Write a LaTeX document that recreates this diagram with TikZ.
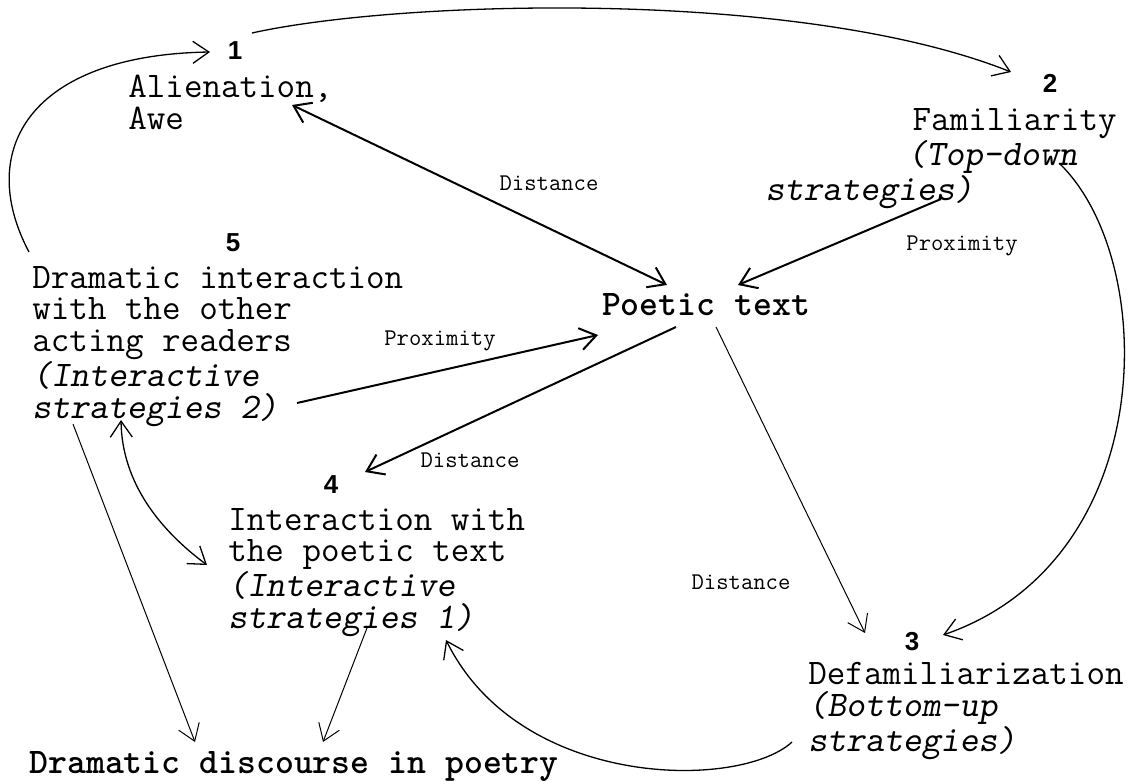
\documentclass[tikz,border=0pt]{standalone}
\usepackage{fontspec}
\newfontfamily\numfont{Liberation Sans}
\usetikzlibrary{arrows.meta,calc}

\begin{document}
\begin{tikzpicture}[x=0.5pt, y=-0.5pt, >={Straight Barb[length=8pt,width=11pt]}]
    \tikzstyle{txt}=[inner sep=0pt, align=left, font=\ttfamily\fontsize{18}{15.75}\selectfont]
    \tikzstyle{head}=[inner sep=0pt, font=\ttfamily\bfseries\fontsize{18}{15.75}\selectfont]
    \tikzstyle{num}=[inner sep=0pt, font=\numfont\bfseries\fontsize{13}{13}\selectfont]
    \tikzstyle{lab}=[inner sep=0pt, font=\ttfamily\fontsize{12}{12}\selectfont]
    \tikzstyle{link}=[->, line width=1pt]
    \tikzstyle{arc}=[->, line width=0.65pt]
    \tikzstyle{slim}=[->, line width=0.5pt]
    \useasboundingbox (0,0) rectangle (1140,781);

    \node (num1) [num] at (235,51) {1};
    \node (alien) [txt, anchor=north west] at (128,75) {Alienation,\\Awe};
    \node (num2) [num] at (1050,83) {2};
    \node (fam) [txt, align=right, anchor=north east] at (1117,108) {Familiarity\\\textsl{(Top-down}\hspace*{19.5pt}\mbox{}\\\textsl{strategies)}\hspace*{71.5pt}};
    \node (num5) [num] at (233,243) {5};
    \node (box5) [txt, anchor=north west] at (32,266) {Dramatic interaction\\with the other\\acting readers\\\textsl{(Interactive}\\\textsl{strategies 2)}};
    \node (poetic) [head, anchor=base] at (706,315) {Poetic text};
    \node (num4) [num] at (331,485) {4};
    \node (box4) [txt, anchor=north west] at (228,508) {Interaction with\\the poetic text\\\textsl{(Interactive}\\\textsl{strategies 1)}};
    \node (num3) [num] at (912,642) {3};
    \node (box3) [txt, anchor=north west] at (808,662) {Defamiliarization\\\textsl{(Bottom-up}\\\textsl{strategies)}};
    \node (drama) [head, anchor=base west] at (29,773) {Dramatic discourse in poetry};

    \node (dist1) [lab] at (549,183) {Distance};
    \node (prox1) [lab] at (962,246) {Proximity};
    \node (prox2) [lab] at (440,341) {Proximity};
    \node (dist2) [lab] at (470,460) {Distance};
    \node (dist3) [lab] at (741,582) {Distance};

    \draw [link, <->] ($(alien.north west)+(164,30)$) -- ($(poetic.base)+(-39,-30)$);
    \draw [link] ($(fam.north east)+(-176,91)$) -- ($(poetic.base)+(32,-30)$);
    \draw [link] ($(box5.north west)+(265,137)$) -- ($(poetic.base)+(-108,20)$);
    \draw [link] ($(poetic.base)+(-30,12)$) -- ($(num4)+(34,-13)$);
    \draw [slim] ($(poetic.base)+(10,12)$) -- ($(num3)+(-47,-9)$);

    \draw [arc] ($(num1)+(17,-18)$) .. controls +(148,-33) and +(-211,-84) .. ($(num2)+(-39,-11)$);
    \draw [arc] ($(box5.north west)+(-3,-14)$) .. controls +(-54,-102) and +(-180,3) .. ($(num1)+(-25,1)$);
    \draw [arc] ($(fam.north east)+(-58,55)$) .. controls +(101,97) and +(217,-75) .. ($(num3)+(31,-7)$);
    \draw [arc, <->] ($(box5.north west)+(89,154)$) .. controls +(1,63) and +(-47,-35) .. ($(box4.north west)+(-21,57)$);
    \draw [arc] ($(box3.north west)+(-16,80)$) .. controls +(-52,48) and +(74,150) .. ($(box4.north west)+(218,132)$);

    \draw [slim] ($(box5.north west)+(41,158)$) -- ($(drama.base west)+(166,-31)$);
    \draw [slim] ($(box4.north west)+(139,120)$) -- ($(drama.base west)+(294,-31)$);
\end{tikzpicture}
\end{document}
